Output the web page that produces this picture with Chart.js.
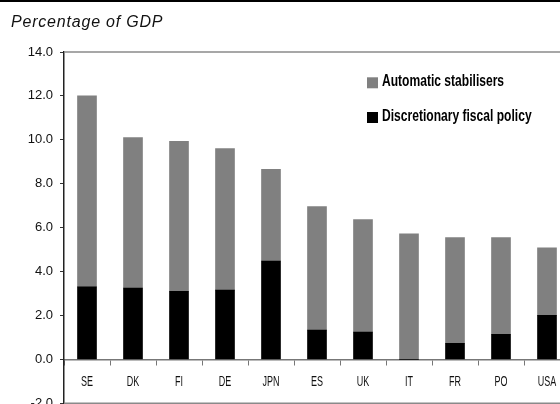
<!DOCTYPE html>
<html><head><meta charset="utf-8">
<script src="https://cdn.jsdelivr.net/npm/chart.js@4"></script>
<style>
html,body{margin:0;padding:0;width:560px;height:404px;overflow:hidden;background:#fff}
#wrap{position:absolute;left:0;top:0;width:574px;height:418px}
#topline{position:absolute;left:0;top:0;width:560px;height:2px;background:#000}
#title{position:absolute;left:11px;top:13px;font:italic 16px "Liberation Sans",Arial,sans-serif;letter-spacing:0.8px;color:#111;white-space:nowrap}
</style></head><body>
<div id="wrap"><canvas id="c" width="574" height="418"></canvas></div>
<div id="topline"></div>
<div id="title">Percentage of GDP</div>
<script>
const categories = ["SE","DK","FI","DE","JPN","ES","UK","IT","FR","PO","USA"];
const discretionary = [3.3, 3.25, 3.1, 3.15, 4.48, 1.33, 1.24, 0, 0.73, 1.14, 2.0];
const automatic = [8.7, 6.85, 6.83, 6.45, 4.17, 5.63, 5.12, 5.72, 4.81, 4.4, 3.08];
const seriesLabels = ["Discretionary fiscal policy", "Automatic stabilisers"];
const seriesColors = ["#000000", "#808080"];
const yMin = -2, yMax = 14, yStep = 2;

const sans = '"Liberation Sans", Arial, sans-serif';

const frame = {
  id: 'frame',
  afterDraw(chart) {
    const {ctx, chartArea: a} = chart;
    ctx.save();
    ctx.strokeStyle = '#8a8a8a';
    ctx.lineWidth = 1.5;
    ctx.beginPath();
    ctx.moveTo(a.left, a.top); ctx.lineTo(a.right, a.top);
    ctx.moveTo(a.left, a.bottom); ctx.lineTo(a.right, a.bottom);
    ctx.stroke();
    ctx.restore();
  }
};

// condensed category labels, placed through the x scale
const condensedXLabels = {
  id: 'condensedXLabels',
  afterDraw(chart) {
    const ctx = chart.ctx, xs = chart.scales.x, ys = chart.scales.y;
    const y0 = ys.getPixelForValue(0);
    ctx.save();
    ctx.font = '14.5px ' + sans;
    ctx.fillStyle = '#111';
    ctx.textAlign = 'center';
    ctx.textBaseline = 'alphabetic';
    xs.ticks.forEach((t, i) => {
      const x = xs.getPixelForTick(i);
      ctx.save();
      ctx.translate(x, y0 + 26.5);
      ctx.scale(0.62, 1);
      ctx.fillText(xs.getLabelForValue(t.value), 0, 0);
      ctx.restore();
    });
    ctx.restore();
  }
};

const legendBox = {
  id: 'legendBox',
  afterDraw(chart) {
    const ctx = chart.ctx;
    const ds = chart.data.datasets.slice().reverse();
    ctx.save();
    ctx.font = 'bold 17px ' + sans;
    ctx.textBaseline = 'alphabetic';
    ds.forEach((d, i) => {
      const y = 86 + i * 34.7;
      ctx.fillStyle = d.backgroundColor;
      ctx.fillRect(367, y - 8.7, 11, 11);
      ctx.fillStyle = '#000';
      ctx.save();
      ctx.translate(382, y);
      ctx.scale(0.71, 1);
      ctx.fillText(d.label, 0, 0);
      ctx.restore();
    });
    ctx.restore();
  }
};

new Chart(document.getElementById('c'), {
  type: 'bar',
  data: {
    labels: categories,
    datasets: [
      {label: seriesLabels[0], data: discretionary, backgroundColor: seriesColors[0]},
      {label: seriesLabels[1], data: automatic, backgroundColor: seriesColors[1]}
    ]
  },
  options: {
    responsive: false,
    animation: false,
    layout: {padding: {left: 0, top: 52, right: 4, bottom: 2}},
    datasets: {bar: {barThickness: 19}},
    plugins: {legend: {display: false}, tooltip: {enabled: false}, title: {display: false}},
    scales: {
      x: {
        stacked: true,
        position: {y: 0},
        afterFit(s) { s.height = 0; },
        grid: {drawOnChartArea: false, drawTicks: true, tickLength: 5, color: '#777', offset: true},
        border: {display: true, color: '#777', width: 1.5},
        ticks: {display: false}
      },
      y: {
        stacked: true,
        min: yMin, max: yMax,
        afterFit(s) { s.width = 64; },
        grid: {drawOnChartArea: false, drawTicks: true, tickLength: 4, color: '#333'},
        border: {display: true, color: '#222', width: 1.5},
        ticks: {stepSize: yStep, padding: 7, color: '#111', font: {family: sans, size: 13},
          callback: v => Number(v).toFixed(1)}
      }
    }
  },
  plugins: [frame, condensedXLabels, legendBox]
});
</script>
</body></html>
